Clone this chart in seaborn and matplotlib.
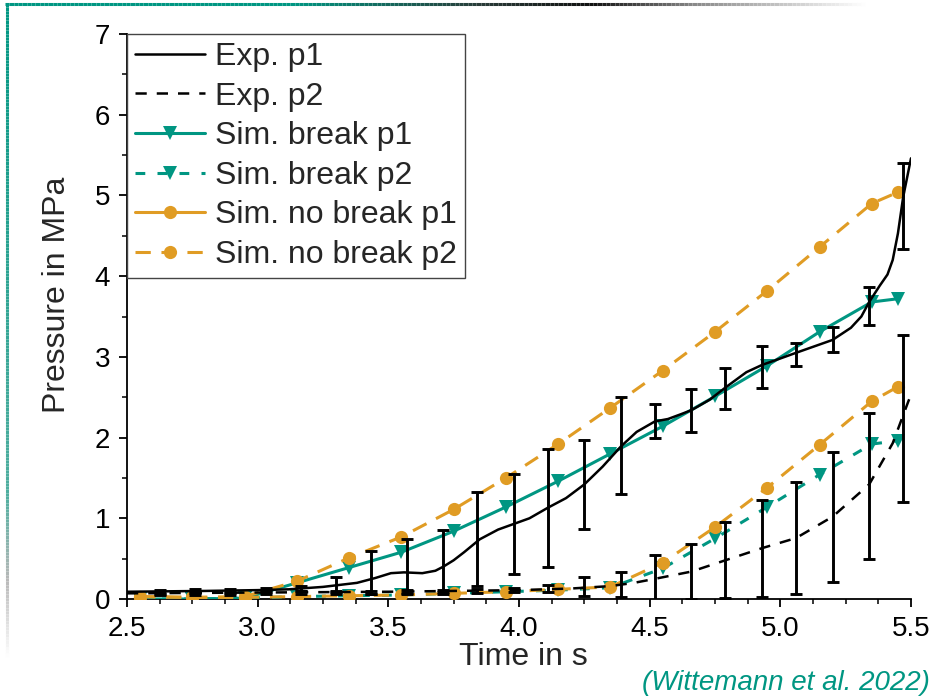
import matplotlib

matplotlib.use("Agg")
import matplotlib.pyplot as plt
import numpy as np
import seaborn as sns
from matplotlib.collections import LineCollection
from matplotlib.colors import LinearSegmentedColormap
from matplotlib.lines import Line2D
from matplotlib.ticker import MultipleLocator

# Experiment, continuous traces
exp_t1 = [2.5, 2.8, 3.0, 3.12, 3.25, 3.38, 3.45, 3.51, 3.56, 3.63, 3.68, 3.71, 3.75,
          3.79, 3.85, 3.92, 3.98, 4.04, 4.11, 4.18, 4.25, 4.32, 4.39, 4.45, 4.52, 4.57,
          4.62, 4.66, 4.73, 4.79, 4.87, 4.93, 5.0, 5.06, 5.13, 5.2, 5.27, 5.31, 5.34,
          5.38, 5.41, 5.43, 5.45, 5.47, 5.5]
exp_p1 = [0.09, 0.10, 0.11, 0.12, 0.15, 0.20, 0.26, 0.32, 0.33, 0.32, 0.35, 0.40, 0.48,
          0.58, 0.74, 0.86, 0.93, 1.00, 1.13, 1.25, 1.42, 1.64, 1.89, 2.07, 2.20, 2.23,
          2.29, 2.34, 2.47, 2.62, 2.81, 2.90, 2.98, 3.05, 3.13, 3.21, 3.36, 3.50, 3.68,
          3.88, 4.02, 4.20, 4.53, 4.98, 5.46]
exp_t2 = [2.5, 3.0, 3.5, 4.0, 4.2, 4.35, 4.44, 4.52, 4.66, 4.79, 4.93, 5.06, 5.2, 5.34,
          5.43, 5.49, 5.5]
exp_p2 = [0.07, 0.08, 0.09, 0.11, 0.13, 0.16, 0.20, 0.25, 0.34, 0.48, 0.63, 0.755, 1.02,
          1.42, 1.93, 2.45, 2.53]

# Experiment, error bars (mean +- half width)
err_t = [2.625, 2.76, 2.895, 3.03, 3.165, 3.30, 3.435, 3.57, 3.71, 3.84, 3.98, 4.11,
         4.25, 4.39, 4.52, 4.66, 4.79, 4.93, 5.06, 5.20, 5.34, 5.47]
err_p1 = [0.09, 0.10, 0.10, 0.11, 0.13, 0.18, 0.33, 0.40, 0.47, 0.74, 0.93, 1.13,
          1.42, 1.90, 2.21, 2.335, 2.605, 2.87, 3.03, 3.215, 3.63, 4.87]
err_p1_sd = [0.025, 0.025, 0.025, 0.025, 0.03, 0.09, 0.27, 0.34, 0.38, 0.58, 0.615, 0.73,
             0.555, 0.605, 0.21, 0.265, 0.255, 0.26, 0.14, 0.155, 0.24, 0.53]
err_p2 = [0.07, 0.07, 0.07, 0.08, 0.08, 0.08, 0.08, 0.09, 0.09, 0.10, 0.11, 0.13,
          0.155, 0.175, 0.25, 0.34, 0.48, 0.63, 0.755, 1.015, 1.405, 2.235]
err_p2_sd = [0.02, 0.02, 0.02, 0.02, 0.02, 0.02, 0.02, 0.02, 0.025, 0.03, 0.025, 0.04,
             0.115, 0.155, 0.29, 0.34, 0.47, 0.60, 0.695, 0.805, 0.905, 1.035]

# Simulations
sim_t = [2.55, 2.75, 2.95, 3.15, 3.35, 3.55, 3.75, 3.95, 4.15, 4.35, 4.55, 4.75, 4.95,
         5.15, 5.35, 5.45]
sim_break_p1 = [0.0, 0.0, 0.01, 0.20, 0.39, 0.58, 0.84, 1.14, 1.46, 1.80, 2.14, 2.51,
                2.89, 3.31, 3.68, 3.72]
sim_break_p2 = [0.0, 0.0, 0.01, 0.03, 0.04, 0.05, 0.07, 0.09, 0.11, 0.14, 0.38, 0.75,
                1.14, 1.54, 1.92, 1.96]
sim_nobreak_p1 = [0.03, 0.02, 0.03, 0.22, 0.51, 0.77, 1.11, 1.50, 1.92, 2.37, 2.83, 3.31,
                  3.82, 4.36, 4.90, 5.04]
sim_nobreak_p2 = [0.03, 0.02, 0.02, 0.03, 0.04, 0.05, 0.07, 0.09, 0.12, 0.15, 0.45, 0.89,
                  1.38, 1.91, 2.45, 2.63]

labels = ["Exp. p1", "Exp. p2", "Sim. break p1", "Sim. break p2",
          "Sim. no break p1", "Sim. no break p2"]

TEAL = "#009682"
ORANGE = "#E09C24"
DASH_EXP = (0, (4.5, 4))
DASH_BRK = (0, (3.2, 4))
DASH_NOB = (0, (5, 3.5))

sns.set_style("ticks")
plt.rcParams["font.family"] = ["Liberation Sans", "DejaVu Sans"]

fig = plt.figure(figsize=(9.35, 6.97), dpi=100)
ax = fig.add_axes([127 / 935, 1 - 599 / 697, 784 / 935, 565 / 697])

ms = 9.5
lw_sim = 2.2
lw_exp = 1.8
# simulations
sns.lineplot(x=sim_t, y=sim_break_p1, ax=ax, color=TEAL, lw=lw_sim, marker="v", ms=ms,
             markeredgewidth=0, zorder=3)
sns.lineplot(x=sim_t, y=sim_break_p2, ax=ax, color=TEAL, lw=lw_sim, marker="v", ms=ms,
             markeredgewidth=0, linestyle=DASH_BRK, zorder=3)
sns.lineplot(x=sim_t, y=sim_nobreak_p1, ax=ax, color=ORANGE, lw=lw_sim, marker="o", ms=ms,
             markeredgewidth=0, linestyle=DASH_NOB, zorder=4)
sns.lineplot(x=sim_t, y=sim_nobreak_p2, ax=ax, color=ORANGE, lw=lw_sim, marker="o", ms=ms,
             markeredgewidth=0, linestyle=DASH_NOB, zorder=4)

# experiment
sns.lineplot(x=exp_t1, y=exp_p1, ax=ax, color="black", lw=lw_exp, zorder=5)
sns.lineplot(x=exp_t2, y=exp_p2, ax=ax, color="black", lw=lw_exp,
             linestyle=DASH_EXP, zorder=5)
for mean, sd in [(err_p1, err_p1_sd), (err_p2, err_p2_sd)]:
    ax.errorbar(err_t, mean, yerr=sd, fmt="none", ecolor="black", elinewidth=2.1,
                capsize=4.5, capthick=2.1, zorder=5)

ax.set_xlim(2.5, 5.5)
ax.set_ylim(0, 7)
ax.xaxis.set_major_locator(MultipleLocator(0.5))
ax.xaxis.set_minor_locator(MultipleLocator(0.125))
ax.yaxis.set_major_locator(MultipleLocator(1))
ax.yaxis.set_minor_locator(MultipleLocator(0.5))
ax.tick_params(which="major", direction="out", length=6, width=1.3, labelsize=20,
               colors="black", pad=6)
ax.tick_params(which="minor", direction="out", length=3.5, width=1.3)
sns.despine(ax=ax)
for side in ["left", "bottom"]:
    ax.spines[side].set_linewidth(1.3)
    ax.spines[side].set_color("black")

ax.set_xlabel("Time in s", fontsize=23)
ax.set_ylabel("Pressure in MPa", fontsize=23)
ax.xaxis.set_label_coords(0.505, -0.076)
ax.yaxis.set_label_coords(-0.07, 0.538)

handles = [
    Line2D([], [], color="black", lw=lw_exp),
    Line2D([], [], color="black", lw=lw_exp, linestyle=DASH_EXP),
    Line2D([], [], color=TEAL, lw=lw_sim, marker="v", ms=ms, markeredgewidth=0),
    Line2D([], [], color=TEAL, lw=lw_sim, marker="v", ms=ms, markeredgewidth=0,
           linestyle=DASH_BRK),
    Line2D([], [], color=ORANGE, lw=lw_sim, marker="o", ms=ms, markeredgewidth=0),
    Line2D([], [], color=ORANGE, lw=lw_sim, marker="o", ms=ms, markeredgewidth=0,
           linestyle=DASH_NOB),
]
leg = ax.legend(handles, labels, loc="upper left", bbox_to_anchor=(0, 1),
                borderaxespad=0, fontsize=23, frameon=True, fancybox=False,
                edgecolor="#444444", framealpha=1, handlelength=2.2,
                handletextpad=0.3, labelspacing=0.3, borderpad=0.25)
leg.get_frame().set_linewidth(1.0)
leg.set_zorder(10)

fig.text(0.995, 1 - 683 / 697, "(Wittemann et al. 2022)", color=TEAL, fontsize=20,
         style="italic", ha="right", va="center")

# slide frame: gradient rule along top and left edge
top_cmap = LinearSegmentedColormap.from_list(
    "top", [(0.0, TEAL), (0.33, TEAL), (0.55, "#2a3b38"), (0.68, "#111111"),
            (0.8, "#8a8a8a"), (1.0, "#ffffff")])
left_cmap = LinearSegmentedColormap.from_list(
    "left", [(0.0, TEAL), (0.75, "#4fae9f"), (0.88, "#b8b8b8"), (1.0, "#ffffff")])
n = 200
xs = np.linspace(5 / 935, 0.93, n + 1)
ys = np.full_like(xs, 1 - 4 / 697)
pts = np.column_stack([xs, ys]).reshape(-1, 1, 2)
top = LineCollection(np.concatenate([pts[:-1], pts[1:]], axis=1),
                     colors=top_cmap(np.linspace(0, 1, n)), linewidths=2.2,
                     transform=fig.transFigure)
fig.add_artist(top)
ys = np.linspace(1 - 4 / 697, 1 - 660 / 697, n + 1)
xs = np.full_like(ys, 7 / 935)
pts = np.column_stack([xs, ys]).reshape(-1, 1, 2)
left = LineCollection(np.concatenate([pts[:-1], pts[1:]], axis=1),
                      colors=left_cmap(np.linspace(0, 1, n)), linewidths=2.2,
                      transform=fig.transFigure)
fig.add_artist(left)

fig.savefig("out.png", dpi=100)
plt.close(fig)
